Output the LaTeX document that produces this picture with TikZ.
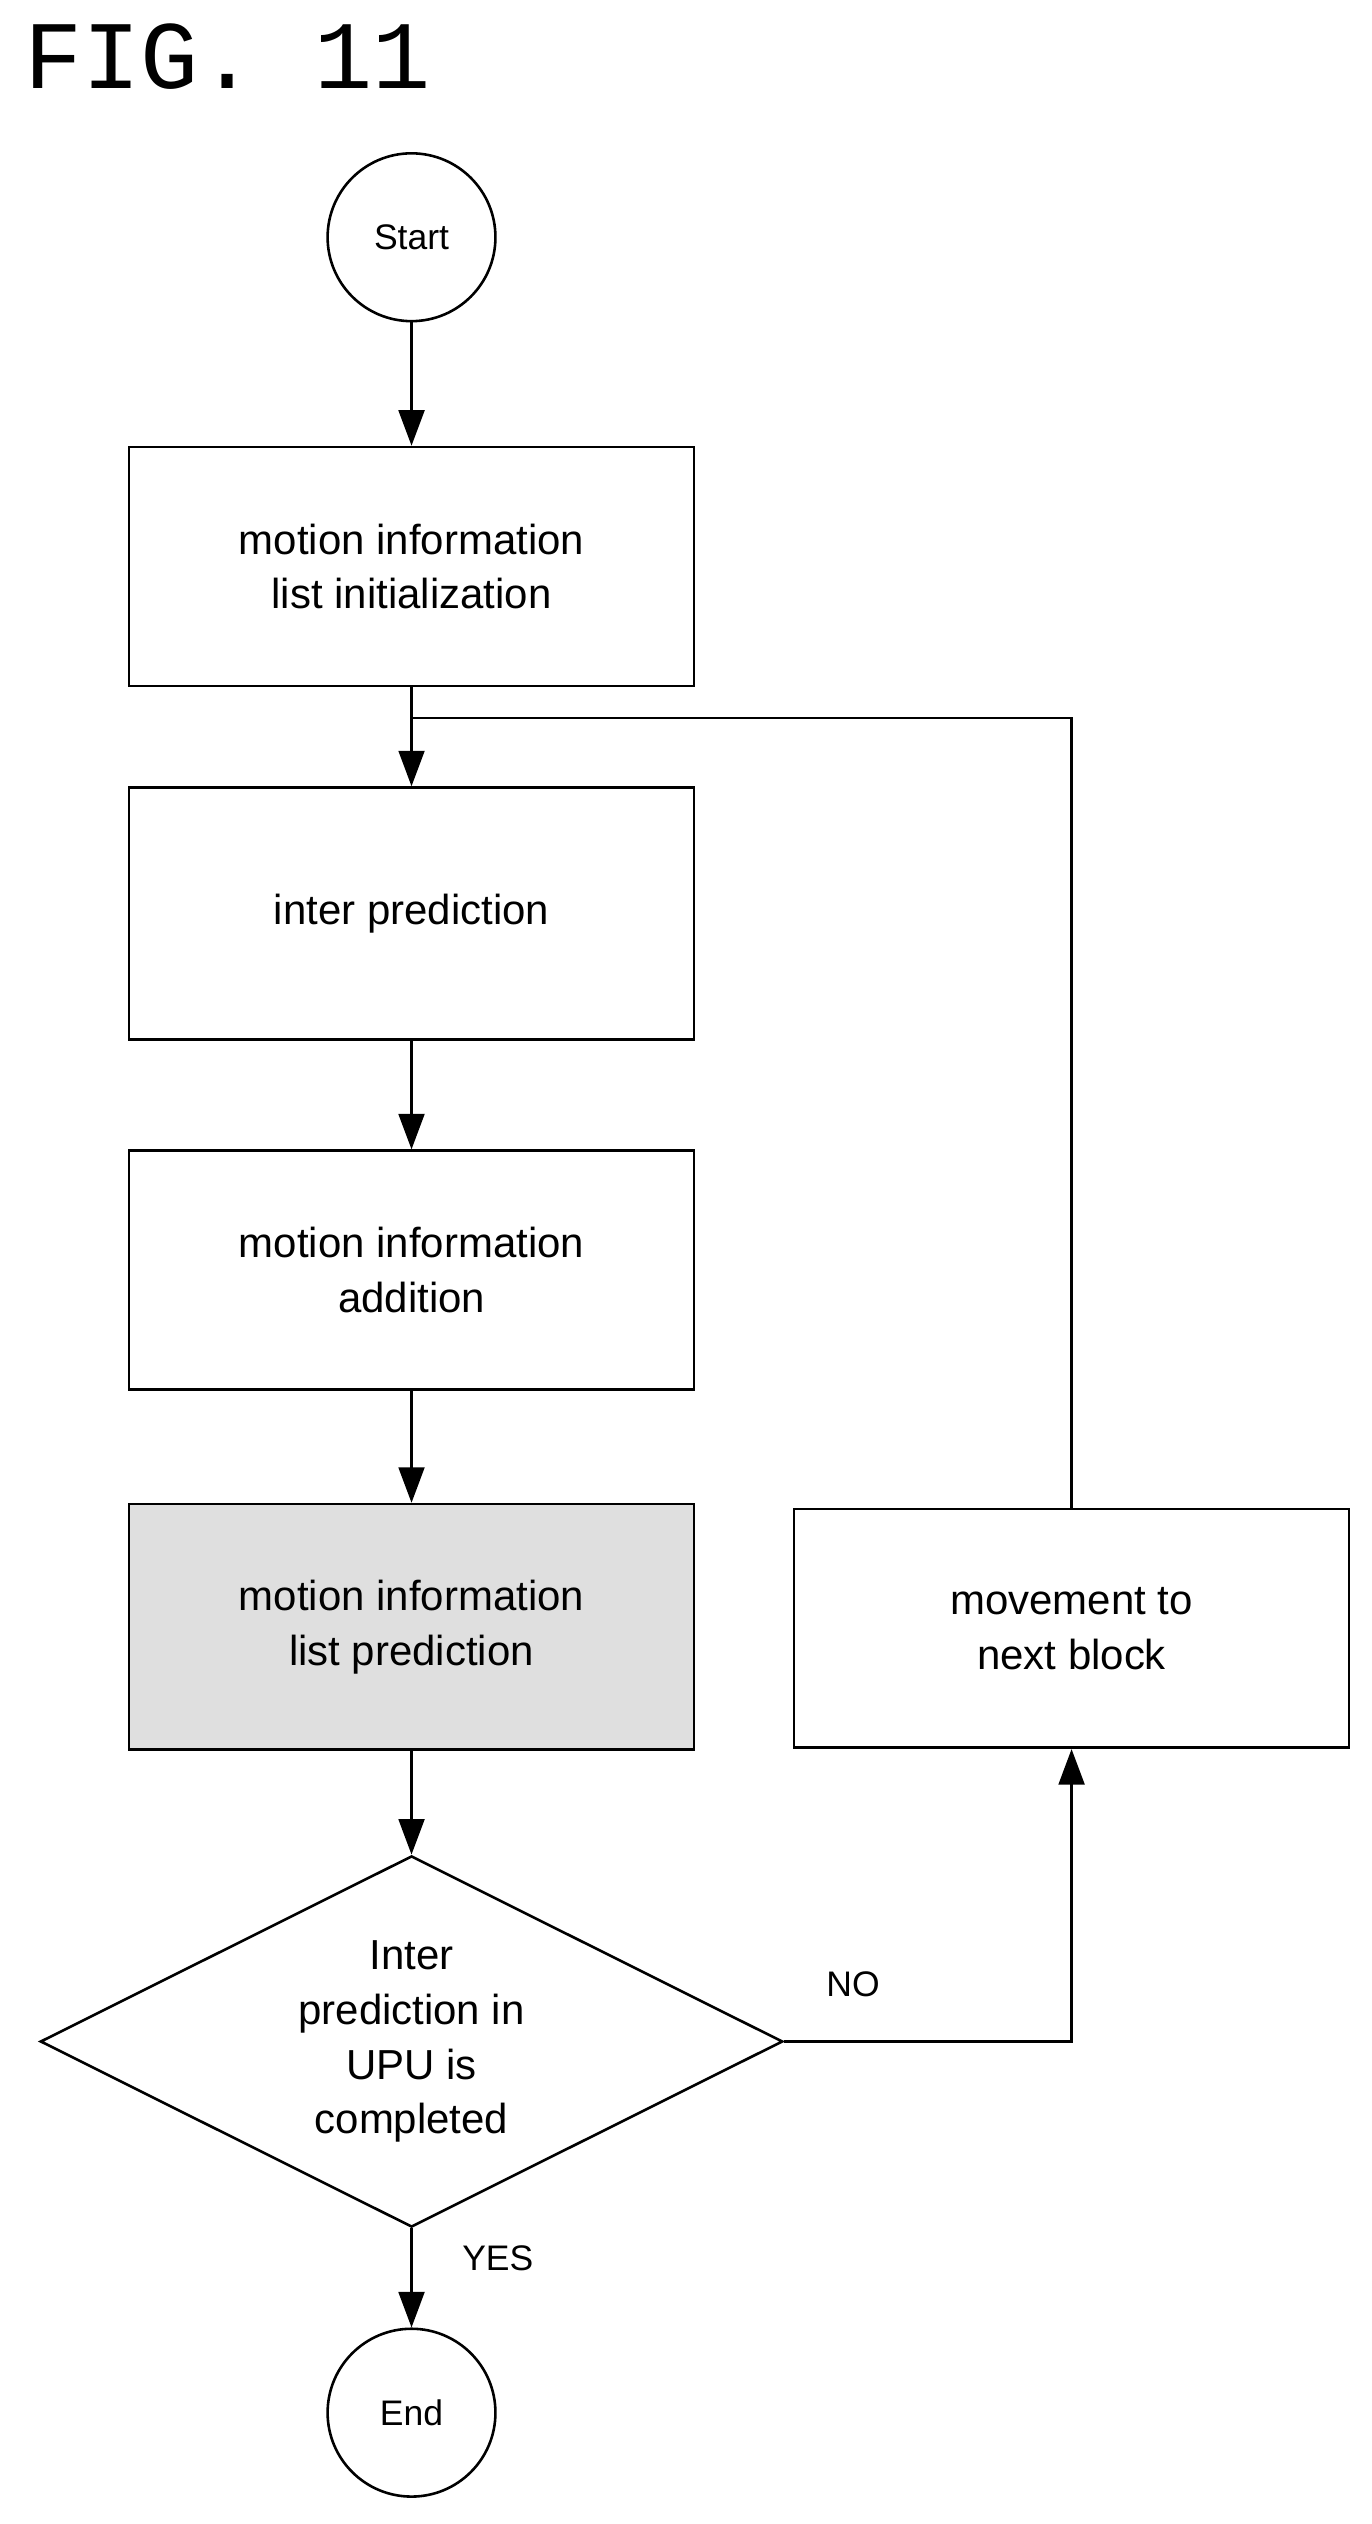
\documentclass[tikz,border=0pt]{standalone}
\usepackage{fontspec}
\setmainfont{Liberation Sans}
\setmonofont{Liberation Mono}
\usetikzlibrary{shapes.geometric,arrows.meta}

\tikzset{
    box/.style={draw, thick, minimum width=175pt, minimum height=74pt, align=center, font=\fontsize{13}{17}\selectfont},
    term/.style={draw, thick, circle, minimum size=52pt, font=\fontsize{11}{13}\selectfont},
    flow/.style={thick, -{Triangle[length=11pt,width=8pt]}},
}

\begin{document}
\begin{tikzpicture}[x=0.5pt, y=-0.5pt]

% Page size
\useasboundingbox (0,0) rectangle (850,1564);

\node[anchor=west, font=\ttfamily\fontsize{30}{30}\selectfont] (title) at (8,35) {FIG. 11};

% Nodes
\node[term] (start) at (255,147) {Start};
\node[box, minimum width=175pt] (init) at (255,351) {motion information\\list initialization};
\node[box, minimum height=78pt] (inter) at (255,566) {inter prediction};
\node[box] (add) at (255,787) {motion information\\addition};
\node[box, minimum height=76pt, fill=gray!25] (pred) at (255,1008) {motion information\\list prediction};
\node[box, minimum width=172pt] (next) at (664,1009) {movement to\\next block};
\node[draw, thick, diamond, aspect=2, minimum width=230pt, minimum height=115pt, inner sep=0pt, align=center, font=\fontsize{13}{17}\selectfont] (check) at (255,1265) {Inter\\prediction in\\UPU is\\completed};
\node[term] (end) at (255,1495) {End};

\coordinate (loop) at (255,445);

% Connectors
\draw[flow] (start) -- (init);
\draw[thick] (init) -- (loop);
\draw[flow] (loop) -- (inter);
\draw[flow] (inter) -- (add);
\draw[flow] (add) -- (pred);
\draw[flow] (pred) -- (check);
\draw[flow] (check) -- node[pos=0.3, right=12pt, font=\fontsize{11}{13}\selectfont] {YES} (end);
\draw[flow] (check.east) -| node[pos=0.12, above=10pt, font=\fontsize{11}{13}\selectfont] {NO} (next.south);
\draw[thick] (next.north) |- (loop);

\end{tikzpicture}
\end{document}
